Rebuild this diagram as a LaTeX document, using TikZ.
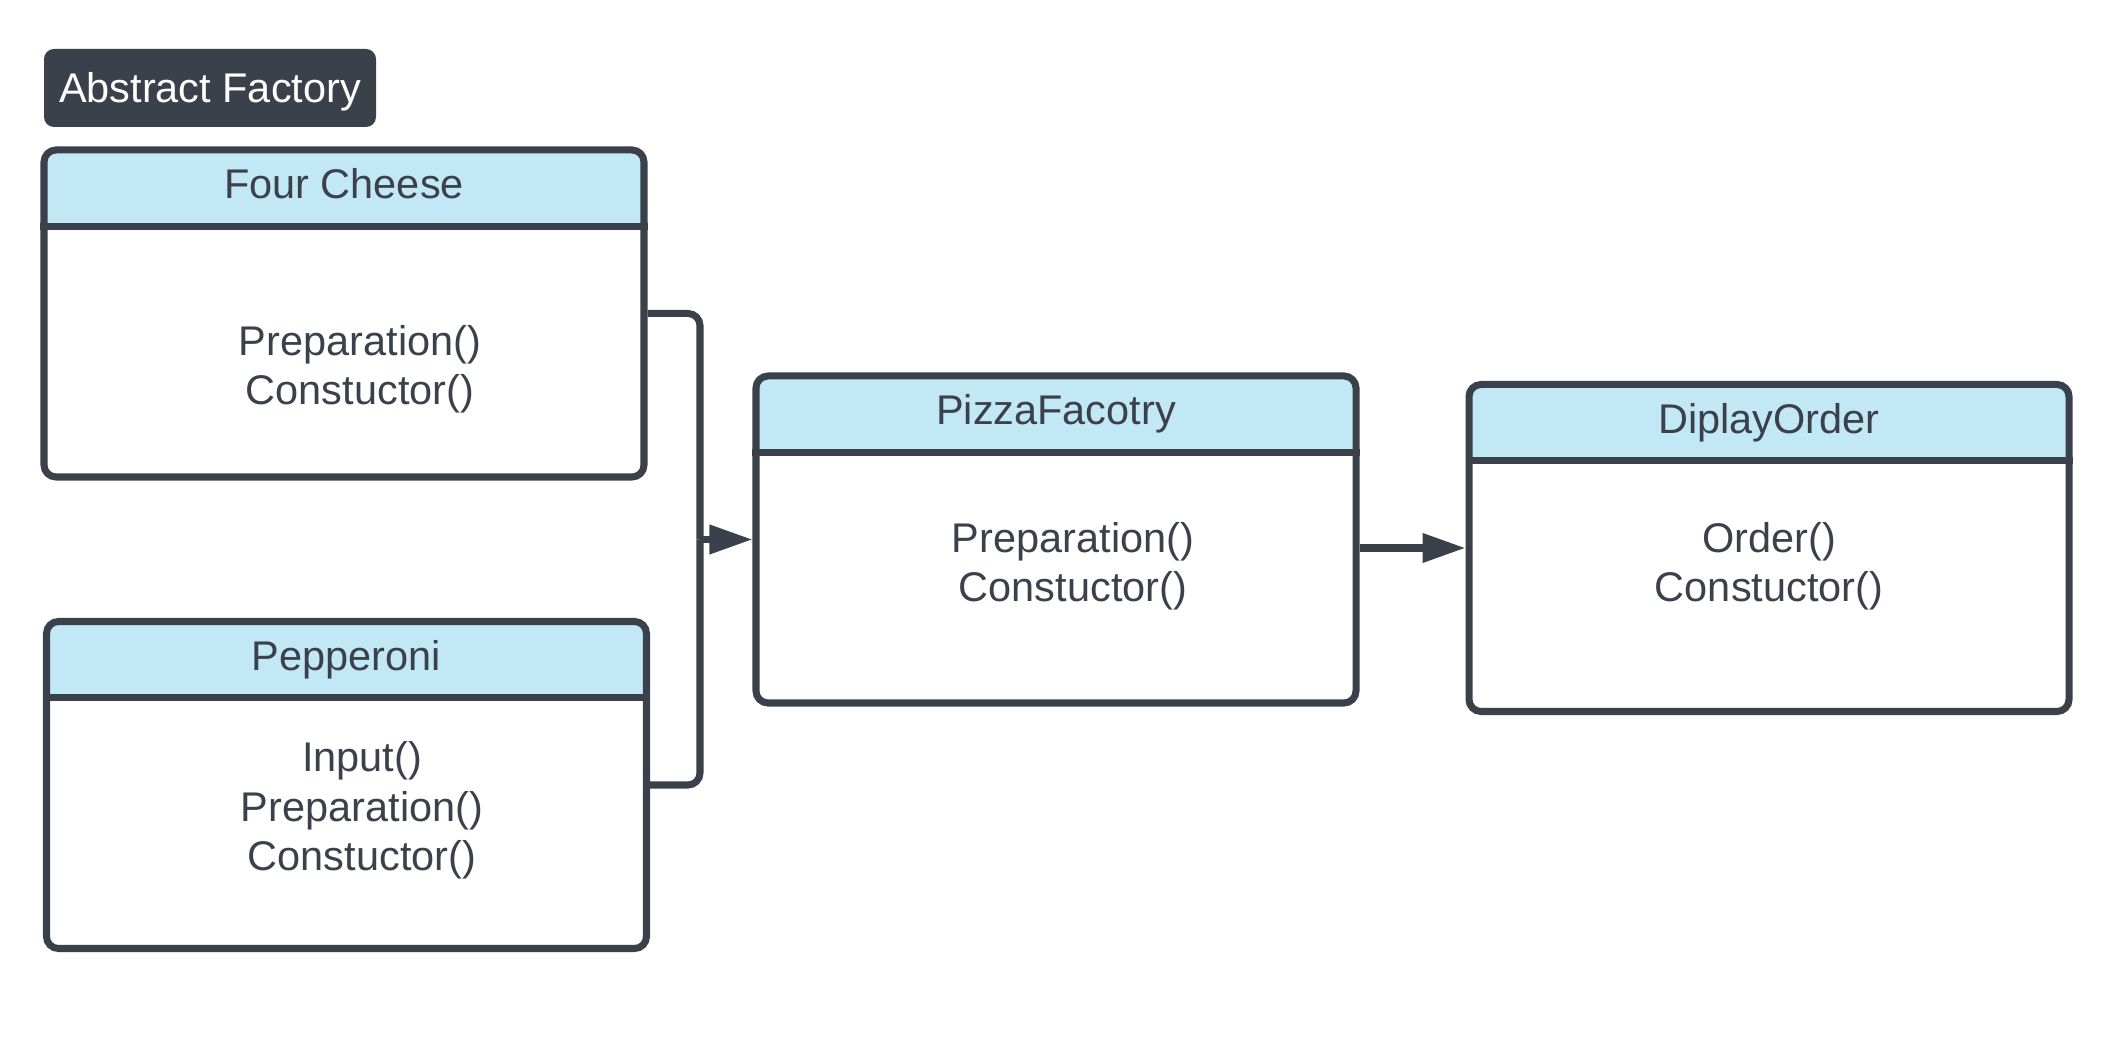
\documentclass[tikz,border=0pt]{standalone}
\usepackage{fontspec}
\setmainfont{Liberation Sans}
\usetikzlibrary{arrows.meta,calc}
\definecolor{ink}{HTML}{3A414B}
\definecolor{hdr}{HTML}{C2E7F5}
\begin{document}
\begin{tikzpicture}[
 font=\fontsize{11.8}{14.2}\selectfont,
 cls/.style={draw=ink,line width=2pt,rounded corners=1.2mm,minimum width=6cm,minimum height=3.27cm,
  path picture={\fill[hdr] (path picture bounding box.north west) rectangle ([yshift=-7.8mm]path picture bounding box.north east);}},
 head/.style={text=ink,inner sep=0pt,text height=3mm,text depth=0pt},
 ops/.style={text=ink,align=center,inner sep=0pt,text height=3mm,text depth=0pt},
 rule/.style={draw=ink,line width=2pt},
 link/.style={draw=ink,line width=2pt,rounded corners=1.2mm},
 tip/.style={-{Triangle[length=4.3mm,width=2.8mm]}},
 tag/.style={fill=ink,text=white,rounded corners=1mm,minimum width=3.32cm,minimum height=0.78cm,text height=3mm,text depth=0pt}
]
 \useasboundingbox (0,0) rectangle (21.13,10.57);
 \node[tag] (af) at (2.10,9.69) {Abstract Factory};
 % classes
 \node[cls] (fc) at (3.44,7.435) {};
 \node[cls] (pp) at (3.465,2.72) {};
 \node[cls] (pf) at (10.56,5.175) {};
 \node[cls] (do) at (17.69,5.09) {};
 \draw[rule] ([yshift=-8mm]fc.north west) -- ([yshift=-8mm]fc.north east);
 \draw[rule] ([yshift=-8mm]pp.north west) -- ([yshift=-8mm]pp.north east);
 \draw[rule] ([yshift=-8mm]pf.north west) -- ([yshift=-8mm]pf.north east);
 \draw[rule] ([yshift=-8mm]do.north west) -- ([yshift=-8mm]do.north east);
 \node[head] (fct) at ([yshift=-3.75mm]fc.north) {Four Cheese};
 \node[head] (ppt) at ([yshift=-3.75mm]pp.north) {Pepperoni};
 \node[head] (pft) at ([yshift=-3.75mm]pf.north) {PizzaFacotry};
 \node[head] (dot) at ([yshift=-3.75mm]do.north) {DiplayOrder};
 \node[ops] (fco) at (3.60,6.67) {Preparation()\\Constuctor()};
 \node[ops] (ppo) at (3.62,2.01) {Input()\\Preparation()\\Constuctor()};
 \node[ops] (pfo) at (10.73,4.70) {Preparation()\\Constuctor()};
 \node[ops] (doo) at (17.69,4.70) {Order()\\Constuctor()};
 % connectors
 \coordinate (join) at (7.00,5.175);
 \draw[link] (fc.east) -| (join);
 \draw[link] (pp.east) -| (join);
 \draw[link,tip] (join) -- (pf.west);
 \draw[link,tip] (pf.east |- do.west) -- (do.west);
\end{tikzpicture}
\end{document}
